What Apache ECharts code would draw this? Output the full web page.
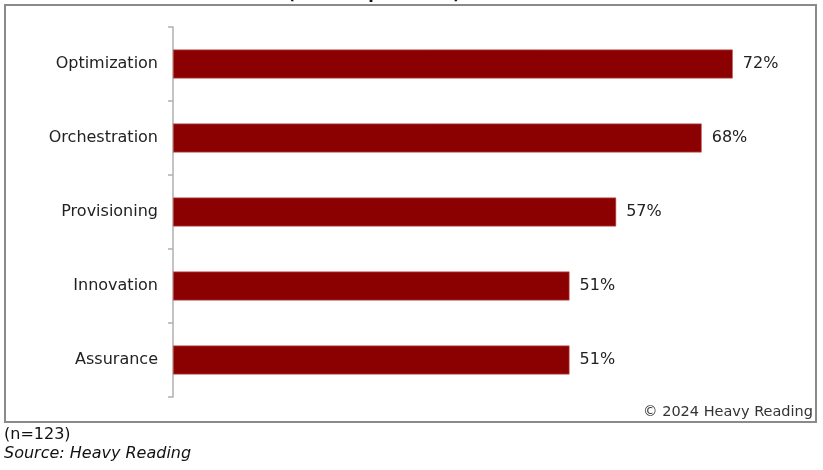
<!DOCTYPE html>
<html>
<head>
<meta charset="utf-8">
<script src="https://cdn.jsdelivr.net/npm/echarts@6/dist/echarts.min.js"></script>
<style>
html,body{margin:0;padding:0;background:#fff;}
#chart{width:823px;height:470px;}
</style>
</head>
<body>
<div id="chart"></div>
<script>
var categories = ['Optimization', 'Orchestration', 'Provisioning', 'Innovation', 'Assurance'];
var values = [72, 68, 57, 51, 51];
var titleText = '(% of respondents)';
var copyrightText = '\u00A9 2024 Heavy Reading';
var noteText = '(n=123)';
var sourceText = 'Source: Heavy Reading';

var chart = echarts.init(document.getElementById('chart'), null, {renderer: 'canvas'});
var font = '"DejaVu Sans", Verdana, sans-serif';
chart.setOption({
  backgroundColor: '#fff',
  animation: false,
  grid: {left: 173, top: 27, width: 622, bottom: 73, containLabel: false},
  xAxis: {
    type: 'value', min: 0, max: 80,
    show: false
  },
  yAxis: {
    type: 'category',
    data: categories,
    inverse: true,
    axisLine: {show: true, lineStyle: {color: '#b0b0b0', width: 1.5}},
    axisTick: {show: true, length: 5, lineStyle: {color: '#b0b0b0', width: 1.5}},
    axisLabel: {margin: 15, color: '#222', fontSize: 16, fontFamily: font},
    splitLine: {show: false}
  },
  series: [{
    type: 'bar',
    data: values,
    barWidth: '39%',
    itemStyle: {color: '#8b0000', borderColor: '#c86060', borderWidth: 0.6},
    label: {
      show: true, position: 'right', distance: 10,
      formatter: '{c}%', color: '#222', fontSize: 16, fontFamily: font
    }
  }],
  graphic: [
    {type: 'text', x: 374, y: 3,
     style: {text: titleText, textAlign: 'center', textVerticalAlign: 'bottom',
             fontSize: 16, fontWeight: 'bold', fontFamily: font, fill: '#111'}},
    {type: 'rect', shape: {x: 5, y: 5, width: 811, height: 417},
     style: {fill: 'none', stroke: '#8a8a8a', lineWidth: 2}},
    {type: 'text', x: 813, y: 412,
     style: {text: copyrightText, textAlign: 'right', textVerticalAlign: 'middle',
             fontSize: 14.5, fontFamily: font, fill: '#333'}},
    {type: 'text', x: 4, y: 435,
     style: {text: noteText, textAlign: 'left', textVerticalAlign: 'middle',
             fontSize: 16, fontFamily: font, fill: '#111'}},
    {type: 'text', x: 4, y: 454,
     style: {text: sourceText, textAlign: 'left', textVerticalAlign: 'middle',
             fontSize: 16, fontStyle: 'italic', fontFamily: font, fill: '#111'}}
  ]
});
</script>
</body>
</html>
